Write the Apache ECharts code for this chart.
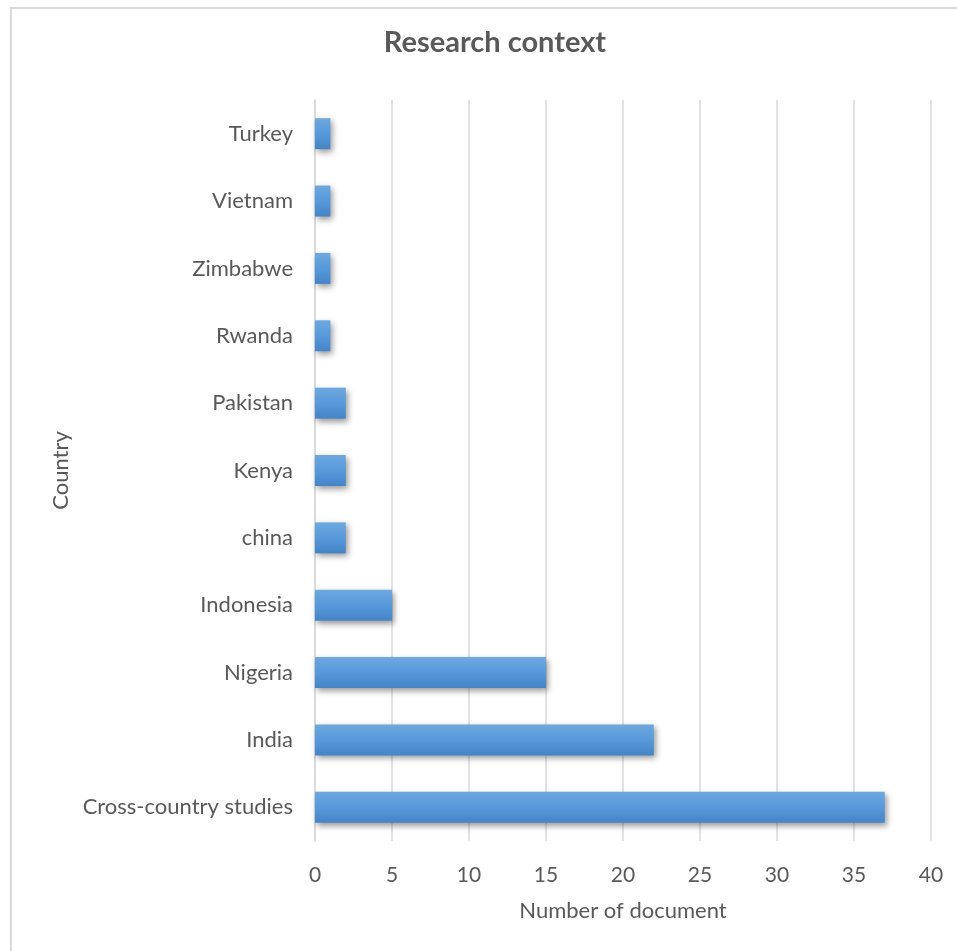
<!DOCTYPE html>
<html>
<head>
<meta charset="utf-8">
<script src="https://cdn.jsdelivr.net/npm/echarts@6/dist/echarts.min.js"></script>
<style>
  html, body { margin: 0; padding: 0; background: #ffffff; }
  #frame { position: absolute; left: 10px; top: 7px; width: 960px; height: 960px;
           border-top: 2px solid #d9d9d9; border-left: 2px solid #d9d9d9; }
  #chart { width: 957px; height: 951px; position: absolute; left: 0; top: 0; }
</style>
</head>
<body>
<div id="frame"></div>
<div id="chart"></div>
<script>
// Countries studied, listed bottom to top
const countries = ['Cross-country studies', 'India', 'Nigeria', 'Indonesia', 'china', 'Kenya', 'Pakistan', 'Rwanda', 'Zimbabwe', 'Vietnam', 'Turkey'];
// Number of documents per country
const documents = [37, 22, 15, 5, 2, 2, 2, 1, 1, 1, 1];
// Axis ticks
const xTicks = [0, 5, 10, 15, 20, 25, 30, 35, 40];

const font = 'Lato, "Noto Sans", sans-serif';
const chart = echarts.init(document.getElementById('chart'), null, { renderer: 'canvas' });

chart.setOption({
  backgroundColor: 'transparent',
  animation: false,
  title: {
    text: 'Research context',
    left: 490, top: 23, textAlign: 'center',
    textStyle: { fontFamily: font, fontSize: 29, fontWeight: 'bold', color: '#595959' }
  },
  grid: { left: 315, right: 26, top: 100, bottom: 110, containLabel: false },
  xAxis: {
    type: 'value',
    min: xTicks[0], max: xTicks[xTicks.length - 1], interval: 5,
    name: 'Number of document',
    nameLocation: 'middle', nameGap: 59,
    nameTextStyle: { fontFamily: font, fontSize: 22, color: '#595959' },
    axisLine: { show: false },
    axisTick: { show: false },
    axisLabel: { fontFamily: font, fontSize: 21, color: '#595959', margin: 24 },
    splitLine: { show: true, lineStyle: { color: '#d9d9d9', width: 1.5 } }
  },
  yAxis: {
    type: 'category',
    data: countries,
    name: 'Country',
    nameLocation: 'middle', nameGap: 242, nameRotate: 90,
    nameTextStyle: { fontFamily: font, fontSize: 22, color: '#595959' },
    axisLine: { show: true, lineStyle: { color: '#d9d9d9', width: 1.5 } },
    axisTick: { show: false },
    axisLabel: { fontFamily: font, fontSize: 22, color: '#595959', margin: 22 }
  },
  series: [{
    type: 'bar',
    data: documents,
    barWidth: '46%',
    itemStyle: {
      color: new echarts.graphic.LinearGradient(0, 0, 0, 1, [
        { offset: 0, color: '#6ea8de' },
        { offset: 0.5, color: '#5799db' },
        { offset: 1, color: '#4584c6' }
      ]),
      shadowColor: 'rgba(0,0,0,0.4)',
      shadowBlur: 6,
      shadowOffsetX: 2,
      shadowOffsetY: 3
    }
  }]
});
</script>
</body>
</html>
